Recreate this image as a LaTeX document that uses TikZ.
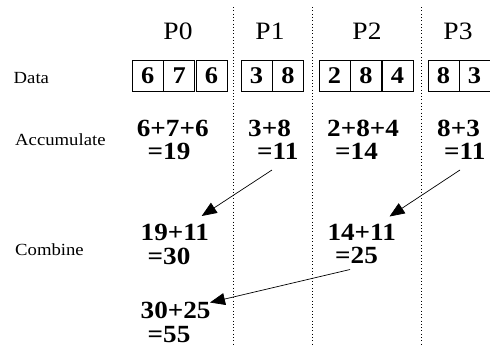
\documentclass[tikz,border=0pt]{standalone}
\usepackage{fontspec}
\setmainfont{Liberation Serif}[FakeStretch=1.1]
\usetikzlibrary{arrows.meta}
\begin{document}
\begin{tikzpicture}[x=1pt,y=-1pt,
  lbl/.style={anchor=base west,inner sep=0pt,font=\fontsize{17}{18}\selectfont},
  proc/.style={anchor=base,inner sep=0pt,font=\fontsize{25}{25}\selectfont},
  num/.style={anchor=base west,inner sep=0pt,font=\fontsize{24.7}{25}\selectfont\bfseries},
  cell/.style={draw,line width=0.7pt,minimum width=31pt,minimum height=31pt,inner sep=0pt,
    text height=16.5pt,text depth=0pt,font=\fontsize{24}{24}\selectfont\bfseries},
  sep/.style={line width=0.9pt,dash pattern=on 0.9pt off 2.4pt},
  arr/.style={line width=0.7pt,-{Triangle[length=15pt,width=12pt]}}]
\useasboundingbox (0,0) rectangle (490,346);
% separators
\coordinate (s1t) at (233,7); \coordinate (s1b) at (233,346);
\coordinate (s2t) at (312,7); \coordinate (s2b) at (312,346);
\coordinate (s3t) at (421,7); \coordinate (s3b) at (421,346);
\draw[sep] (s1t) -- (s1b);
\draw[sep] (s2t) -- (s2b);
\draw[sep] (s3t) -- (s3b);
% process labels
\node[proc] (p0) at (178,39) {P0};
\node[proc] (p1) at (270,39) {P1};
\node[proc] (p2) at (367,39) {P2};
\node[proc] (p3) at (458,39) {P3};
% row labels
\node[lbl] (ldata) at (13.5,83) {Data};
\node[lbl] (lacc) at (15,145) {Accumulate};
\node[lbl] (lcomb) at (15,255) {Combine};
% data cells
\node[cell] (d00) at (147.8,75.5) {6};
\node[cell] (d01) at (179.1,75.5) {7};
\node[cell] (d02) at (211.4,75.5) {6};
\node[cell] (d10) at (256.5,75.5) {3};
\node[cell] (d11) at (288,75.5) {8};
\node[cell] (d20) at (334.5,75.5) {2};
\node[cell] (d21) at (366,75.5) {8};
\node[cell] (d22) at (397.5,75.5) {4};
\node[cell] (d30) at (443.5,75.5) {8};
\node[cell] (d31) at (474.5,75.5) {3};
% accumulate
\node[num] (a0) at (136.7,136) {6+7+6};
\node[num] (a0r) at (147.5,159) {=19};
\node[num] (a1) at (248,136) {3+8};
\node[num] (a1r) at (257,159) {=11};
\node[num] (a2) at (327,136) {2+8+4};
\node[num] (a2r) at (335,159) {=14};
\node[num] (a3) at (437,136) {8+3};
\node[num] (a3r) at (444,159) {=11};
% combine
\node[num] (c0) at (140.5,240) {19+11};
\node[num] (c0r) at (147.5,264) {=30};
\node[num] (c2) at (327.3,240) {14+11};
\node[num] (c2r) at (335,263.5) {=25};
\node[num] (f0) at (140.5,318.5) {30+25};
\node[num] (f0r) at (147.5,342) {=55};
% arrows
\coordinate (e1) at (272,170);
\coordinate (t1) at (201.7,216);
\coordinate (e2) at (460,170);
\coordinate (t2) at (389.5,216.5);
\coordinate (e3) at (350,269.5);
\coordinate (t3) at (210,302.5);
\draw[arr] (e1) -- (t1);
\draw[arr] (e2) -- (t2);
\draw[arr] (e3) -- (t3);
\end{tikzpicture}
\end{document}
